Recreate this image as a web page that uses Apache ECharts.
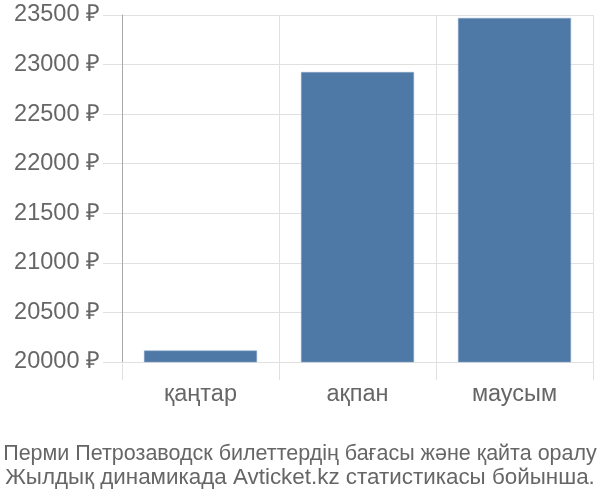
<!DOCTYPE html>
<html>
<head>
<meta charset="utf-8">
<script src="https://cdn.jsdelivr.net/npm/echarts@6/dist/echarts.min.js"></script>
<style>
  html, body { margin: 0; padding: 0; background: #fff; }
  #main { width: 600px; height: 500px; }
</style>
</head>
<body>
<div id="main"></div>
<script>
var categories = ['қаңтар', 'ақпан', 'маусым'];
var prices = [20115, 22925, 23470];
var titleLines = [
  'Перми Петрозаводск билеттердің бағасы және қайта оралу',
  'Жылдық динамикада Avticket.kz статистикасы бойынша.'
];

var myChart = echarts.init(document.getElementById('main'));

var option = {
  animation: false,
  textStyle: { fontFamily: 'Liberation Sans, Arial, sans-serif' },
  title: {
    text: '{a|' + titleLines[0] + '}\n{b|' + titleLines[1] + '}',
    left: 'center',
    bottom: 7,
    textStyle: {
      fontWeight: 'normal',
      color: '#666',
      rich: {
        a: { fontSize: 21.5, color: '#666', lineHeight: 24 },
        b: { fontSize: 22.4, color: '#666', lineHeight: 24 }
      }
    }
  },
  grid: {
    left: 122,
    right: 7,
    top: 15,
    bottom: 138
  },
  xAxis: {
    type: 'category',
    data: categories,
    axisLine: { show: true, lineStyle: { color: '#e0e0e0' } },
    axisTick: { show: true, length: 18, lineStyle: { color: '#e0e0e0' } },
    splitLine: { show: true, lineStyle: { color: '#e0e0e0' } },
    axisLabel: { fontSize: 23.5, color: '#666', margin: 21 }
  },
  yAxis: {
    type: 'value',
    min: 20000,
    max: 23500,
    interval: 500,
    axisLine: { show: true, lineStyle: { color: '#aaa' } },
    axisTick: { show: true, length: 19, lineStyle: { color: '#e0e0e0' } },
    splitLine: { show: true, lineStyle: { color: '#e0e0e0' } },
    axisLabel: {
      fontSize: 23.5,
      color: '#666',
      margin: 22,
      formatter: function (v) { return v + ' ₽'; }
    }
  },
  series: [{
    type: 'bar',
    data: prices,
    barWidth: 113,
    itemStyle: {
      color: '#4e79a7',
      borderColor: '#8aa6c6',
      borderWidth: 0.5
    }
  }]
};

myChart.setOption(option);
</script>
</body>
</html>
